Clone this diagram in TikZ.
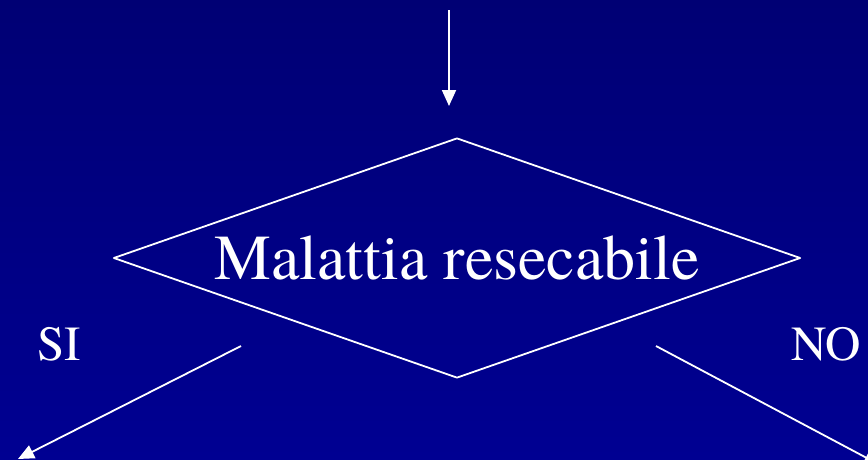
\documentclass[tikz,border=0pt]{standalone}
\usepackage{fontspec}
\setmainfont{TeX Gyre Termes}
\usetikzlibrary{shapes.geometric,arrows.meta}
\definecolor{topblue}{RGB}{0,0,116}
\definecolor{botblue}{RGB}{0,0,146}
\begin{document}
\begin{tikzpicture}[x=1pt,y=-1pt,line join=round,line width=1.8pt]
			\tikzset{every node/.style={text=white,inner sep=0pt},
				decision/.style={draw=white,shape=diamond,aspect=2.86,minimum width=687pt,minimum height=240pt,font=\fontsize{64}{66}\selectfont},
				answer/.style={font=\fontsize{49}{52}\selectfont},
				flow/.style={draw=white,-{Triangle[width=14pt,length=16pt]}}}
			\def \W{868} \def \H{459}
			\clip (0,0) rectangle (\W,\H);
			\shade[top color=topblue,bottom color=botblue] (0,0) rectangle (\W,\H);
			% decision
			\node[decision] (dec) at (457,258) {Malattia resecabile};
			\node[answer] (si) at (59,344) {SI};
			\node[answer] (no) at (826,344) {NO};
			% connectors
			\coordinate (in) at (449,10);
			\coordinate (intip) at (449,106);
			\coordinate (sistart) at (241,346);
			\coordinate (siend) at (18,459);
			\coordinate (nostart) at (656,346);
			\coordinate (noend) at (880,465);
			\draw[flow] (in)--(intip);
			\draw[flow] (sistart)--(siend);
			\draw[flow] (nostart)--(noend);
		\end{tikzpicture}
\end{document}
